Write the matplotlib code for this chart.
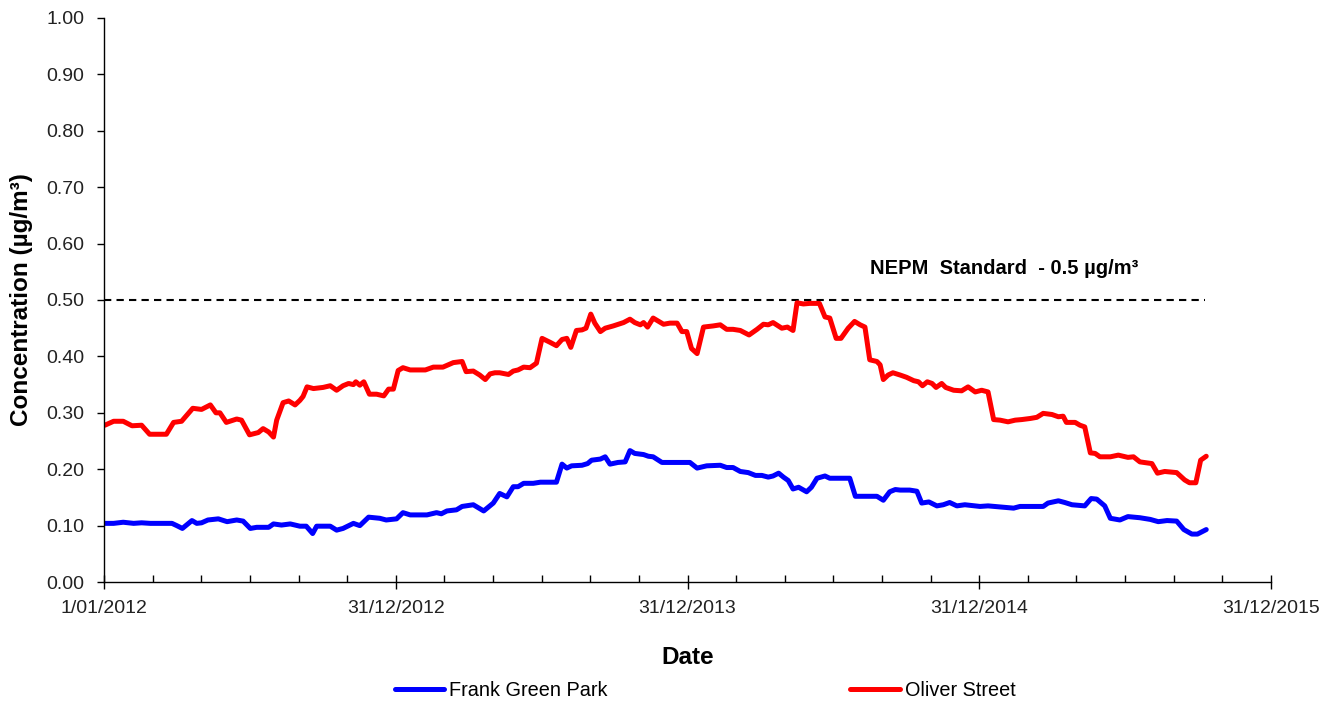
import matplotlib
matplotlib.use("Agg")
import matplotlib.pyplot as plt
import matplotlib.dates as mdates
from matplotlib.ticker import FixedLocator, FuncFormatter, MultipleLocator
import numpy as np

plt.rcParams['font.family'] = ['Liberation Sans', 'DejaVu Sans']

start = np.datetime64('2012-01-01')

# days since 1/01/2012, rolling concentration (ug/m3)
fgp_days = [1, 12, 24, 37, 47, 58, 85, 91, 98, 110, 116, 122, 130, 143, 154, 166, 174, 183,
            191, 206, 212, 222, 233, 245, 253, 261, 266, 283, 291, 299, 312, 320, 331, 345,
            353, 366, 374, 383, 404, 416, 422, 429, 441, 448, 462, 475, 487, 495, 504, 512,
            518, 525, 537, 546, 566, 573, 579, 585, 598, 605, 610, 621, 627, 633, 643, 652,
            658, 664, 675, 681, 687, 698, 712, 733, 742, 754, 771, 779, 787, 796, 806, 815,
            823, 831, 837, 844, 850, 856, 862, 869, 879, 885, 892, 902, 908, 933, 940, 946,
            967, 975, 983, 990, 996, 1008, 1017, 1023, 1032, 1042, 1050, 1058, 1067, 1077,
            1096, 1106, 1138, 1146, 1175, 1181, 1194, 1202, 1211, 1227, 1235, 1242, 1252,
            1259, 1271, 1281, 1296, 1309, 1319, 1330, 1342, 1351, 1361, 1368, 1379]
fgp_vals = [0.104, 0.104, 0.106, 0.104, 0.105, 0.104, 0.104, 0.100, 0.095, 0.109, 0.104,
            0.105, 0.110, 0.112, 0.107, 0.110, 0.108, 0.095, 0.097, 0.097, 0.103, 0.101,
            0.103, 0.099, 0.099, 0.086, 0.099, 0.099, 0.092, 0.095, 0.104, 0.100, 0.115,
            0.113, 0.110, 0.112, 0.123, 0.119, 0.119, 0.123, 0.121, 0.126, 0.128, 0.134,
            0.137, 0.126, 0.140, 0.157, 0.151, 0.169, 0.169, 0.175, 0.175, 0.177, 0.177,
            0.209, 0.202, 0.206, 0.207, 0.210, 0.216, 0.218, 0.222, 0.209, 0.212, 0.213,
            0.233, 0.228, 0.226, 0.223, 0.222, 0.212, 0.212, 0.212, 0.202, 0.206, 0.207,
            0.203, 0.203, 0.196, 0.194, 0.189, 0.189, 0.186, 0.188, 0.193, 0.186, 0.180,
            0.165, 0.168, 0.160, 0.168, 0.184, 0.188, 0.184, 0.184, 0.152, 0.152, 0.152,
            0.145, 0.160, 0.164, 0.163, 0.163, 0.161, 0.140, 0.142, 0.135, 0.137, 0.141,
            0.135, 0.137, 0.134, 0.135, 0.131, 0.134, 0.134, 0.140, 0.144, 0.141, 0.137,
            0.135, 0.148, 0.147, 0.135, 0.113, 0.110, 0.116, 0.114, 0.111, 0.107, 0.109,
            0.108, 0.093, 0.085, 0.085, 0.093]

ol_days = [1, 12, 24, 35, 47, 57, 78, 87, 97, 111, 122, 133, 140, 145, 153, 166, 172, 182,
           193, 199, 206, 212, 216, 224, 231, 239, 245, 249, 254, 262, 274, 283, 291, 299,
           306, 312, 315, 320, 325, 332, 341, 350, 356, 362, 368, 374, 383, 402, 412, 424,
           437, 448, 453, 462, 470, 477, 483, 489, 495, 506, 512, 518, 525, 533, 541, 548,
           558, 566, 573, 579, 584, 591, 598, 603, 609, 614, 621, 627, 637, 650, 658, 664,
           671, 675, 680, 687, 693, 700, 708, 717, 723, 729, 735, 742, 750, 762, 771, 779,
           787, 796, 807, 817, 825, 831, 837, 848, 855, 862, 867, 875, 883, 895, 902, 908,
           916, 922, 931, 939, 946, 952, 958, 967, 971, 975, 981, 987, 996, 1004, 1013,
           1019, 1024, 1030, 1036, 1041, 1048, 1053, 1063, 1073, 1081, 1090, 1098, 1106,
           1113, 1121, 1131, 1140, 1148, 1159, 1167, 1175, 1186, 1194, 1200, 1204, 1215,
           1221, 1227, 1234, 1240, 1246, 1259, 1269, 1281, 1288, 1296, 1311, 1318, 1327,
           1342, 1352, 1358, 1366, 1372, 1379]
ol_vals = [0.278, 0.285, 0.285, 0.277, 0.278, 0.262, 0.262, 0.283, 0.285, 0.308, 0.306,
           0.314, 0.300, 0.300, 0.283, 0.289, 0.287, 0.261, 0.265, 0.272, 0.266, 0.257,
           0.287, 0.318, 0.321, 0.314, 0.322, 0.329, 0.346, 0.343, 0.345, 0.348, 0.340,
           0.348, 0.352, 0.350, 0.355, 0.349, 0.355, 0.333, 0.333, 0.330, 0.342, 0.342,
           0.375, 0.380, 0.376, 0.376, 0.381, 0.381, 0.389, 0.391, 0.373, 0.374, 0.367,
           0.359, 0.369, 0.371, 0.371, 0.368, 0.374, 0.376, 0.381, 0.380, 0.388, 0.432,
           0.425, 0.419, 0.430, 0.432, 0.416, 0.446, 0.447, 0.450, 0.475, 0.459, 0.444,
           0.450, 0.454, 0.460, 0.466, 0.460, 0.456, 0.460, 0.452, 0.468, 0.463, 0.457,
           0.459, 0.459, 0.444, 0.444, 0.414, 0.405, 0.452, 0.454, 0.456, 0.448, 0.448,
           0.446, 0.438, 0.448, 0.457, 0.456, 0.460, 0.450, 0.452, 0.446, 0.495, 0.493,
           0.494, 0.494, 0.470, 0.468, 0.432, 0.432, 0.450, 0.462, 0.456, 0.452, 0.394,
           0.391, 0.385, 0.359, 0.367, 0.371, 0.367, 0.363, 0.357, 0.355, 0.348, 0.355,
           0.352, 0.345, 0.352, 0.345, 0.340, 0.339, 0.346, 0.337, 0.340, 0.337, 0.288,
           0.287, 0.284, 0.287, 0.288, 0.290, 0.292, 0.299, 0.297, 0.293, 0.294, 0.283,
           0.283, 0.278, 0.275, 0.229, 0.228, 0.222, 0.222, 0.225, 0.221, 0.222, 0.213,
           0.210, 0.193, 0.196, 0.194, 0.181, 0.176, 0.176, 0.216, 0.223]

standard = 0.5
std_days = [0, 1378]

tick_days = [0, 365, 730, 1095, 1460]


def to_dates(days):
    return (start + np.array(days).astype('timedelta64[D]')).astype('datetime64[D]')


fig = plt.figure(figsize=(13.39, 7.02), dpi=100)
ax = fig.add_axes([0.0777, 0.1709, 0.8715, 0.8035])

ax.plot(to_dates(std_days), [standard, standard], color='black', lw=1.5,
        ls=(0, (3.5, 2.5)))
l1, = ax.plot(to_dates(fgp_days), fgp_vals, color='#0000FF', lw=3.6,
              solid_joinstyle='round', solid_capstyle='round', label='Frank Green Park')
l2, = ax.plot(to_dates(ol_days), ol_vals, color='#FF0000', lw=3.6,
              solid_joinstyle='round', solid_capstyle='round', label='Oliver Street')

x0 = mdates.date2num(start)
ax.set_xlim(x0, x0 + 1460)
ax.set_ylim(0, 1.0)

ax.xaxis.set_major_locator(FixedLocator([x0 + d for d in tick_days]))
ax.xaxis.set_minor_locator(FixedLocator([x0 + i * 365 / 6 for i in range(25)]))


def fmt_date(x, pos):
    d = mdates.num2date(x)
    return f"{d.day}/{d.month:02d}/{d.year}"


ax.xaxis.set_major_formatter(FuncFormatter(fmt_date))
ax.yaxis.set_major_locator(MultipleLocator(0.1))
ax.yaxis.set_major_formatter(FuncFormatter(lambda v, p: f"{v:.2f}"))

ax.spines['top'].set_visible(False)
ax.spines['right'].set_visible(False)
for s in ('left', 'bottom'):
    ax.spines[s].set_linewidth(1.0)
    ax.spines[s].set_color('black')

ax.tick_params(axis='x', which='major', direction='inout', length=10, width=1,
               labelsize=14, colors='black', labelcolor='#222222', pad=8)
ax.tick_params(axis='x', which='minor', direction='in', length=5, width=1)
ax.tick_params(axis='y', which='major', direction='out', length=5, width=1,
               labelsize=14, labelcolor='#222222', pad=9)

ax.set_ylabel('Concentration (µg/m³)', fontsize=17.5, fontweight='bold')
ax.yaxis.set_label_coords(-0.061, 0.5)
ax.set_xlabel('Date', fontsize=17.5, fontweight='bold')
ax.xaxis.set_label_coords(0.5, -0.113)

ax.text(x0 + 958, 0.555, 'NEPM  Standard  - 0.5 µg/m³', fontsize=14.5,
        fontweight='bold', ha='left', va='center')

fig.legend(handles=[l1, l2], loc='center', bbox_to_anchor=(0.5265, 0.017), ncol=2,
           frameon=False, fontsize=14.3, handlelength=2.5, handletextpad=0.25,
           columnspacing=12.2)

fig.savefig('out.png', dpi=100)
